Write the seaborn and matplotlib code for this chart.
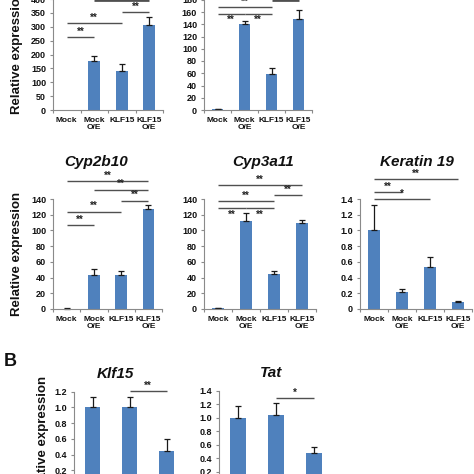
import matplotlib
matplotlib.use("Agg")
import matplotlib.pyplot as plt
import matplotlib.ticker as mticker
import seaborn as sns
import pandas as pd
import numpy as np

sns.set_style("white")
plt.rcParams['font.family'] = ['Liberation Sans', 'DejaVu Sans']

# ---------------- data ----------------
categories4 = ["Mock", "Mock\nO/E", "KLF15", "KLF15\nO/E"]
categories3 = ["Mock", "Mock\nO/E", "KLF15"]

# top-left panel (title cropped)
a1_values = [0, 175, 140, 305]
a1_errors = [0, 20, 27, 32]
a1_yticks = [0, 50, 100, 150, 200, 250, 300, 350, 400]
a1_sig = [(0, 1, 263, "**", "above"), (0, 2, 314, "**", "above"),
          (2, 3, 353, "**", "above"), (1, 3, 398, "", "above")]

# top-middle panel (title cropped)
a2_values = [1, 141, 59, 149]
a2_errors = [0.5, 5, 10, 15]
a2_yticks = [0, 20, 40, 60, 80, 100, 120, 140, 160, 180]
a2_sig = [(0, 2, 168, "**", "above"), (0, 1, 157, "**", "below"),
          (1, 2, 157, "**", "below"), (2, 3, 179, "", "above")]

cyp2b10_values = [0.5, 43, 43, 127]
cyp2b10_errors = [0.3, 8, 5, 5]
cyp2b10_yticks = [0, 20, 40, 60, 80, 100, 120, 140]
cyp2b10_sig = [(0, 3, 163, "**", "above"), (1, 3, 152, "**", "above"),
               (2, 3, 138, "**", "above"), (0, 2, 124, "**", "above"),
               (0, 1, 107, "**", "above")]

cyp3a11_values = [1, 112, 44, 109]
cyp3a11_errors = [0.3, 10, 5, 4]
cyp3a11_yticks = [0, 20, 40, 60, 80, 100, 120, 140]
cyp3a11_sig = [(0, 3, 158, "**", "above"), (2, 3, 145, "**", "above"),
               (0, 2, 137, "**", "above"), (0, 1, 128, "**", "below"),
               (1, 2, 128, "**", "below")]

krt19_values = [1.0, 0.22, 0.53, 0.09]
krt19_errors = [0.33, 0.03, 0.13, 0.015]
krt19_yticks = [0, 0.2, 0.4, 0.6, 0.8, 1.0, 1.2, 1.4]
krt19_yticklabels = ["0", "0.2", "0.4", "0.6", "0.8", "1.0", "1.2", "1.4"]
krt19_sig = [(0, 3, 1.65, "**", "above"), (0, 1, 1.49, "**", "above"),
             (0, 2, 1.40, "*", "above")]

klf15_values = [1.0, 1.01, 0.45]
klf15_errors = [0.13, 0.12, 0.15]
klf15_yticks = [0, 0.2, 0.4, 0.6, 0.8, 1.0, 1.2]
klf15_yticklabels = ["0", "0.2", "0.4", "0.6", "0.8", "1.0", "1.2"]
klf15_sig = [(1, 2, 1.21, "**", "above")]

tat_values = [0.99, 1.04, 0.47]
tat_errors = [0.18, 0.17, 0.10]
tat_yticks = [0, 0.2, 0.4, 0.6, 0.8, 1.0, 1.2, 1.4]
tat_yticklabels = ["0", "0.2", "0.4", "0.6", "0.8", "1.0", "1.2", "1.4"]
tat_sig = [(1, 2, 1.29, "*", "above")]

# ---------------- style ----------------
BLUE = "#4F81BD"
SPINE = "#8a8a8a"
SIGC = "#505050"
W = H = 474

fig = plt.figure(figsize=(4.74, 4.74), dpi=100)


def px_axes(left, right, y0, ytop):
    return fig.add_axes([left / W, 1 - y0 / H, (right - left) / W, (y0 - ytop) / H])


def draw_panel(box, cats, vals, errs, yticks, yticklabels, sigs):
    ax = px_axes(*box)
    df = pd.DataFrame({"cat": cats, "val": vals})
    sns.barplot(data=df, x="cat", y="val", color=BLUE, width=0.42, ax=ax,
                saturation=1, edgecolor="none", errorbar=None)
    x = np.arange(len(cats))
    v = np.asarray(vals, dtype=float)
    e = np.asarray(errs, dtype=float)
    m = e > 0
    ax.errorbar(x[m], v[m], yerr=[np.zeros(m.sum()), e[m]], fmt="none",
                ecolor="#1a1a1a", elinewidth=0.9, capsize=2.2, capthick=0.9,
                clip_on=False)
    ax.set_xlim(-0.5, len(cats) - 0.5)
    ax.set_ylim(yticks[0], yticks[-1])
    ax.set_yticks(yticks)
    if yticklabels is not None:
        ax.set_yticklabels(yticklabels)
    ax.set_xlabel("")
    ax.set_ylabel("")
    for s in ["top", "right"]:
        ax.spines[s].set_visible(False)
    for s in ["left", "bottom"]:
        ax.spines[s].set_color(SPINE)
        ax.spines[s].set_linewidth(0.8)
    ax.xaxis.set_minor_locator(mticker.FixedLocator(np.arange(-0.5, len(cats), 1.0)))
    ax.tick_params(axis="x", which="major", length=0, pad=5, labelsize=6)
    ax.tick_params(axis="x", which="minor", length=2.5, width=0.8, color=SPINE,
                   direction="out", bottom=True)
    ax.tick_params(axis="y", which="major", length=2.5, width=0.8, color=SPINE,
                   direction="out", left=True, pad=2.5, labelsize=6.5)
    for lab in ax.get_xticklabels() + ax.get_yticklabels():
        lab.set_fontweight("bold")
        lab.set_color("#111111")
    for lab in ax.get_xticklabels():
        lab.set_linespacing(1.0)
    ymax = yticks[-1]
    for (i, j, y, txt, pos) in sigs:
        lw = 1.0 if txt else 2.0
        ax.plot([i, j], [y, y], color=SIGC, lw=lw, clip_on=False,
                solid_capstyle="butt")
        if txt:
            if pos == "above":
                ax.text((i + j) / 2, y + ymax * 0.004, txt, ha="center", va="bottom",
                        fontsize=7, fontweight="bold", color="#222222", clip_on=False)
            else:
                ax.text((i + j) / 2, y - ymax * 0.012, txt, ha="center", va="top",
                        fontsize=7, fontweight="bold", color="#222222", clip_on=False)
    return ax


# top row (titles cropped off)
draw_panel((53, 163, 110, -0.9), categories4, a1_values, a1_errors,
           a1_yticks, None, a1_sig)
draw_panel((204, 312, 110, -0.25), categories4, a2_values, a2_errors,
           a2_yticks, None, a2_sig)

# second row
draw_panel((53, 162, 309, 199), categories4, cyp2b10_values, cyp2b10_errors,
           cyp2b10_yticks, None, cyp2b10_sig)
draw_panel((204, 316, 309, 199), categories4, cyp3a11_values, cyp3a11_errors,
           cyp3a11_yticks, None, cyp3a11_sig)
draw_panel((360, 472, 309, 199), categories4, krt19_values, krt19_errors,
           krt19_yticks, krt19_yticklabels, krt19_sig)

# bottom row (B)
draw_panel((74, 185, 486, 391.7), categories3, klf15_values, klf15_errors,
           klf15_yticks, klf15_yticklabels, klf15_sig)
draw_panel((219, 333, 485, 390.7), categories3, tat_values, tat_errors,
           tat_yticks, tat_yticklabels, tat_sig)


def ftext(x, y, s, **kw):
    fig.text(x / W, 1 - y / H, s, **kw)


title_kw = dict(ha="center", va="center", fontsize=11, fontweight="bold",
                fontstyle="italic", color="#111111")
ftext(96, 162, "Cyp2b10", **title_kw)
ftext(263, 162, "Cyp3a11", **title_kw)
ftext(417, 162, "Keratin 19", **title_kw)
ftext(115, 374, "Klf15", **title_kw)
ftext(271, 373, "Tat", **title_kw)

ylab_kw = dict(ha="center", va="center", rotation=90, fontsize=9.5,
               fontweight="bold", color="#111111")
ftext(17, 52, "Relative expression", **ylab_kw)
ftext(17, 254, "Relative expression", **ylab_kw)
ftext(43, 438, "Relative expression", **ylab_kw)

ftext(10, 362, "B", ha="center", va="center", fontsize=13, fontweight="bold",
      color="#111111")

fig.savefig("out.png", dpi=100)
